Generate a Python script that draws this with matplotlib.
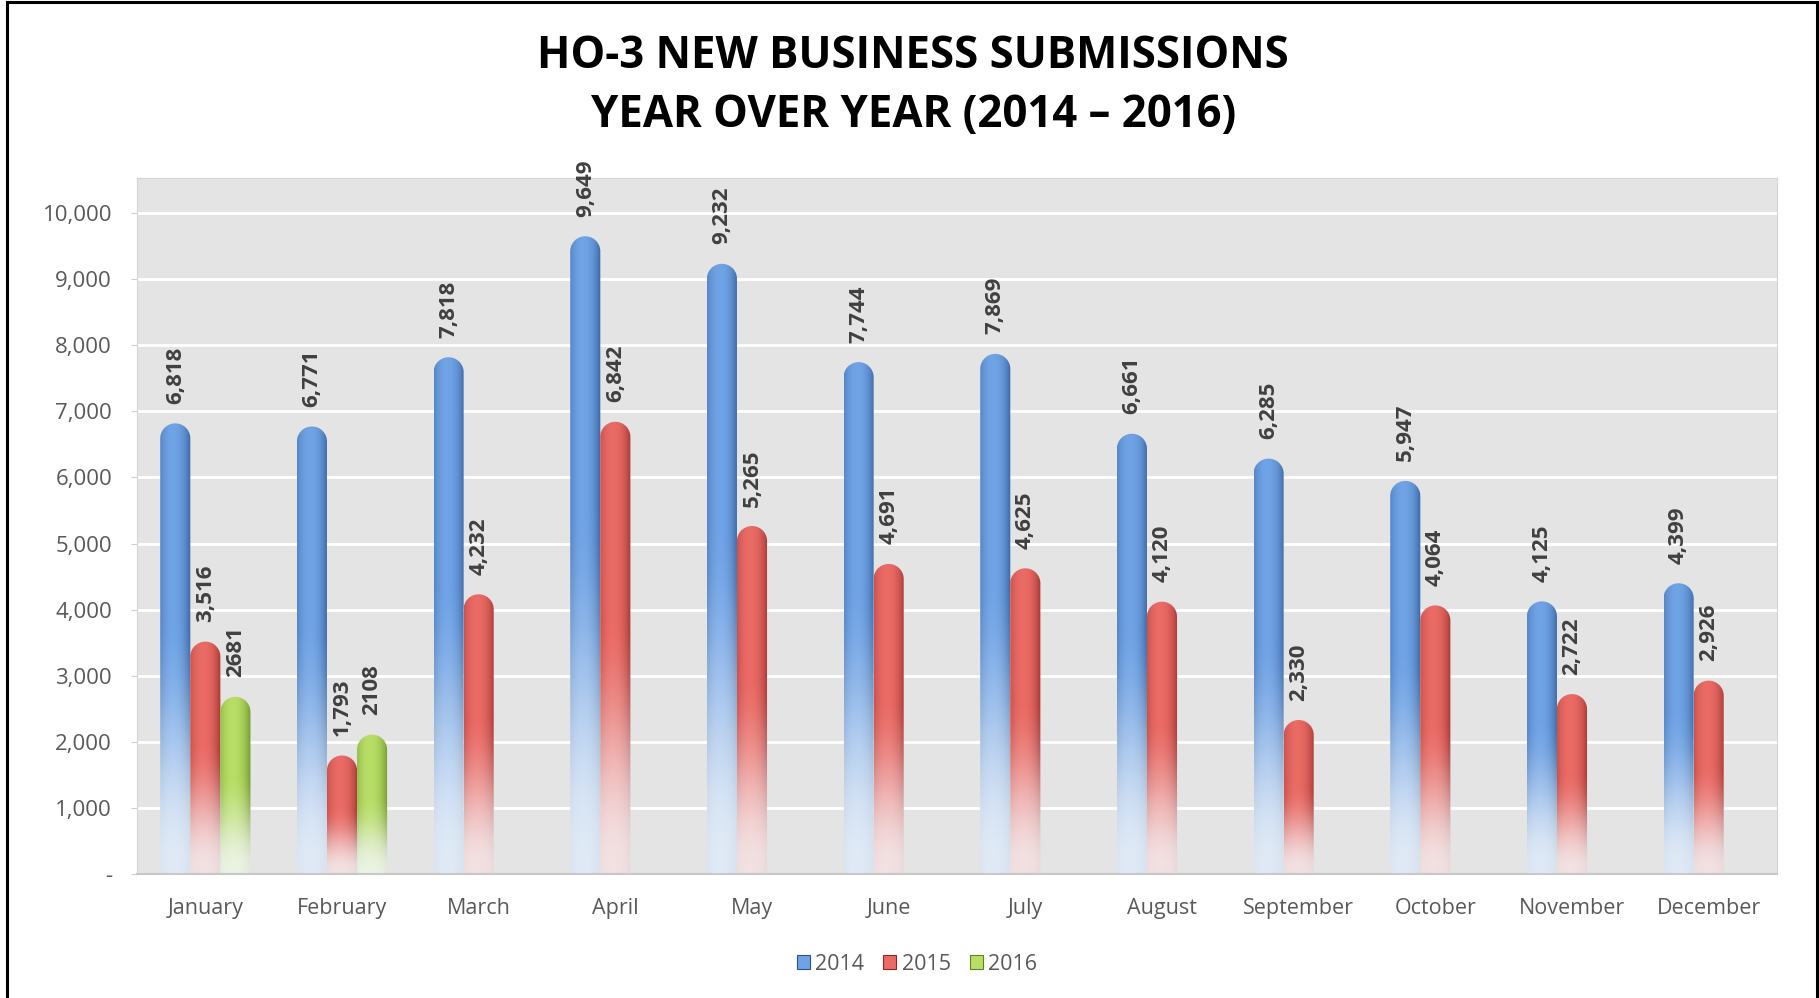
import numpy as np
import matplotlib
matplotlib.use("Agg")
import matplotlib.pyplot as plt
from matplotlib.patches import PathPatch, Rectangle
from matplotlib.path import Path

plt.rcParams['font.family'] = ['Open Sans', 'DejaVu Sans']

months = ['January', 'February', 'March', 'April', 'May', 'June', 'July',
          'August', 'September', 'October', 'November', 'December']
years = ['2014', '2015', '2016']
v2014 = [6818, 6771, 7818, 9649, 9232, 7744, 7869, 6661, 6285, 5947, 4125, 4399]
v2015 = [3516, 1793, 4232, 6842, 5265, 4691, 4625, 4120, 2330, 4064, 2722, 2926]
v2016 = [2681, 2108, None, None, None, None, None, None, None, None, None, None]
labels2016 = ['2681', '2108']  # no thousands separator on the 2016 labels
yticks = [0, 1000, 2000, 3000, 4000, 5000, 6000, 7000, 8000, 9000, 10000]

# (center colour, edge colour) for the cylinder shading
colors = {
    '2014': ((0.44, 0.64, 0.90), (0.16, 0.32, 0.55)),
    '2015': ((0.92, 0.42, 0.40), (0.56, 0.15, 0.14)),
    '2016': ((0.72, 0.87, 0.40), (0.36, 0.52, 0.12)),
}

W, H = 1819, 998
fig = plt.figure(figsize=(W / 100, H / 100), dpi=100)
ax = fig.add_axes([137 / W, 1 - 874 / H, (1777 - 137) / W, (874 - 178) / H])
ax.set_facecolor('#e4e4e4')
ymax = 10530
ax.set_xlim(-0.5, 11.5)
ax.set_ylim(0, ymax)

# rounded caps need the data aspect (x units per pixel vs y units per pixel)
px_x = (1777 - 137) / 12.0
px_y = (874 - 178) / ymax

bw = 0.22
offsets = [-bw, 0, bw]


def cap_path(x, h):
    rx = bw / 2
    ry = rx * px_x / px_y
    th = np.linspace(np.pi, 0, 40)
    top = [(x + rx * np.cos(t), h - ry + ry * np.sin(t)) for t in th]
    verts = [(x - rx, -500)] + top + [(x + rx, -500), (x - rx, -500)]
    codes = [Path.MOVETO] + [Path.LINETO] * (len(verts) - 2) + [Path.CLOSEPOLY]
    return Path(verts, codes)


def cylinder(x, h, cset):
    center, edge = np.array(cset[0]), np.array(cset[1])
    nx, ny = 40, 200
    u = np.linspace(0, 1, nx)
    m = np.clip(1 - ((u - 0.42) / 0.62) ** 2, 0, 1) ** 0.7
    row = edge[None, :] + (center - edge)[None, :] * m[:, None]
    v = np.linspace(1, 0, ny)  # top -> bottom
    f = np.clip((v - 0.02) / 0.55, 0, 1)
    f = f * f * (3 - 2 * f)
    f = 0.16 + 0.84 * f
    img = np.ones((ny, nx, 4))
    img[:, :, :3] = row[None, :, :] * f[:, None, None] + (1 - f[:, None, None]) * np.array([0.96, 0.97, 0.98])
    patch = PathPatch(cap_path(x, h), fc='none', ec='none')
    ax.add_patch(patch)
    im = ax.imshow(img, extent=(x - bw / 2, x + bw / 2, 0, h), aspect='auto',
                   interpolation='bilinear', zorder=2)
    im.set_clip_path(patch)


for i in range(len(months)):
    for j, (yr, vals) in enumerate(zip(years, [v2014, v2015, v2016])):
        val = vals[i]
        if val is None:
            continue
        x = i + offsets[j]
        cylinder(x, val, colors[yr])
        txt = labels2016[i] if yr == '2016' else f'{val:,}'
        ax.annotate(txt, (x, val), xytext=(0, 14), textcoords='offset points',
                    rotation=90, ha='center', va='bottom', fontsize=16,
                    fontweight='bold', color='#404040', zorder=3)

ax.set_xlim(-0.5, 11.5)
ax.set_ylim(0, ymax)

ax.set_yticks(yticks)
ax.set_yticklabels(['-'] + [f'{t:,}' for t in yticks[1:]])
ax.set_xticks(range(len(months)))
ax.set_xticklabels(months)
ax.tick_params(axis='y', colors='#d0d0d0', labelcolor='#595959', labelsize=16,
               length=4, pad=14)
ax.tick_params(axis='x', length=0, labelcolor='#595959', labelsize=15.5, pad=17)
ax.grid(axis='y', color='white', linewidth=2)
ax.set_axisbelow(True)
for s in ['top', 'right', 'left']:
    ax.spines[s].set_color('#d4d4d4')
ax.spines['bottom'].set_color('#c8c8c8')
ax.spines['bottom'].set_linewidth(1.5)

# title
fig.text(0.502, 1 - 57 / H, 'HO-3 NEW BUSINESS SUBMISSIONS', ha='center', va='center',
         fontsize=31.5, fontweight='bold', color='black')
fig.text(0.502, 1 - 115 / H, 'YEAR OVER YEAR (2014 – 2016)', ha='center', va='center',
         fontsize=31.5, fontweight='bold', color='black')

# legend
handles = [Rectangle((0, 0), 1, 1, fc=colors[y][0], ec=colors[y][1], lw=0.8) for y in years]
fig.legend(handles, years, loc='center', bbox_to_anchor=(917 / W, 1 - 964 / H), ncol=3,
           frameon=False, fontsize=15.5, handlelength=0.6, handleheight=0.6,
           handletextpad=0.25, columnspacing=0.9, labelcolor='#595959')

# outer border
fig.add_artist(plt.Line2D([7 / W, 7 / W], [0, 1 - 1.5 / H], color='black', lw=2.2))
fig.add_artist(plt.Line2D([1816.5 / W, 1816.5 / W], [0, 1 - 1.5 / H], color='black', lw=2.2))
fig.add_artist(plt.Line2D([7 / W, 1816.5 / W], [1 - 1.5 / H, 1 - 1.5 / H], color='black', lw=2.2))

fig.savefig('out.png', dpi=100)
